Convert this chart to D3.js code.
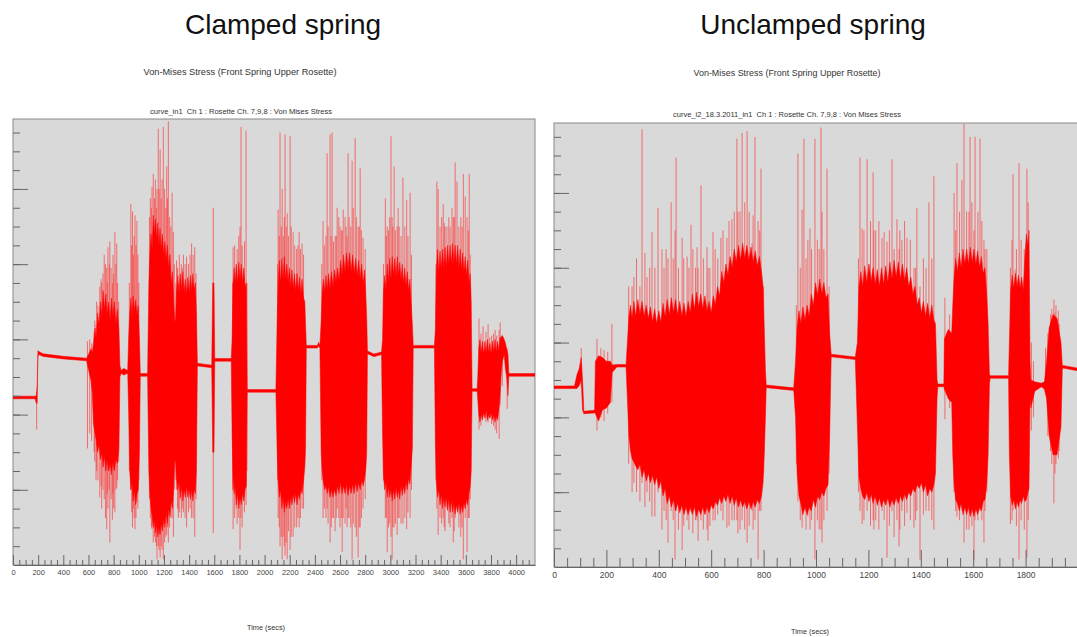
<!DOCTYPE html>
<html>
<head>
<meta charset="utf-8">
<script src="https://cdn.jsdelivr.net/npm/d3@7"></script>
<style>
  body { margin: 0; background: #fff; }
  svg { display: block; font-family: "Liberation Sans", Arial, sans-serif; }
</style>
</head>
<body>
<svg id="svg" width="1077" height="637"></svg>
<script>
// envelope rows: [time, upper, lower] of the solid trace, spikes: [time, top, bottom]
const clampedEnvelope = [
  [0, 89.8, 88.4], [175, 89.8, 88.4], [186, 90, 86], [192, 96, 86], [198, 114, 110.5], [205, 113.5, 112],
  [240, 112.3, 110.9], [400, 111, 109.6], [585, 110, 108.6],
  [600, 112, 104], [620, 115, 98], [630, 113, 92],
  [640, 118, 75], [652, 126, 70], [662, 120, 66], [672, 134, 60], [684, 128, 64], [695, 140, 56], [706, 132, 60],
  [716, 146, 52], [727, 136, 58], [738, 144, 50], [748, 133, 56], [760, 140, 50], [772, 130, 54], [783, 142, 48],
  [794, 132, 55], [806, 140, 50], [818, 128, 56], [830, 136, 54], [842, 125, 62], [850, 106, 100],
  [860, 103.5, 102], [880, 104.5, 101], [912, 103.5, 102],
  [920, 122, 80], [928, 134, 50], [937, 142, 40], [946, 132, 44], [955, 143, 34], [965, 135, 40], [975, 141, 32],
  [986, 133, 38], [996, 138, 40], [1005, 120, 60], [1012, 101.8, 100.4],
  [1070, 101.8, 100.4],
  [1080, 150, 50], [1088, 165, 38], [1097, 176, 30], [1106, 168, 26], [1115, 186, 20], [1124, 176, 24],
  [1133, 184, 17], [1142, 172, 22], [1151, 182, 15], [1160, 170, 20], [1169, 179, 16], [1178, 168, 22],
  [1188, 176, 18], [1198, 165, 24], [1208, 172, 20], [1218, 162, 28], [1228, 170, 22], [1238, 158, 30],
  [1248, 165, 26], [1258, 150, 34], [1268, 156, 30], [1278, 140, 42], [1285, 130, 55],
  [1292, 130, 55], [1300, 145, 46], [1310, 154, 40], [1320, 144, 44], [1330, 155, 36], [1340, 146, 42],
  [1350, 156, 34], [1360, 145, 40], [1370, 152, 36], [1380, 144, 42], [1390, 153, 36], [1400, 145, 40],
  [1410, 154, 35], [1420, 146, 40], [1430, 155, 34], [1440, 146, 40], [1450, 150, 38], [1458, 135, 50],
  [1466, 107.3, 105.9], [1580, 106.3, 104.9],
  [1588, 150, 60], [1598, 150, 60], [1604, 109.8, 108.4], [1735, 109.8, 108.4],
  [1742, 120, 70], [1750, 150, 45], [1758, 158, 38], [1766, 150, 42], [1775, 160, 32], [1785, 150, 38],
  [1795, 161, 30], [1805, 152, 36], [1815, 160, 32], [1825, 150, 38], [1835, 158, 34], [1845, 148, 40],
  [1855, 150, 42], [1862, 93.3, 91.9],
  [2090, 93.3, 91.9],
  [2100, 130, 60], [2108, 150, 45], [2117, 162, 36], [2127, 150, 40], [2137, 163, 30], [2147, 152, 36],
  [2157, 164, 28], [2167, 152, 34], [2177, 160, 30], [2188, 150, 36], [2198, 158, 30], [2208, 148, 36],
  [2218, 157, 32], [2228, 147, 38], [2238, 155, 33], [2248, 146, 38], [2258, 155, 32], [2268, 146, 38],
  [2278, 153, 35], [2288, 144, 40], [2298, 152, 38], [2310, 142, 45], [2320, 140, 52], [2326, 128, 62],
  [2332, 116.8, 115.4],
  [2420, 116.8, 115.4], [2430, 118.5, 116.5], [2440, 116.8, 115.4],
  [2450, 130, 60], [2458, 145, 50], [2468, 152, 44], [2478, 145, 40], [2488, 154, 42], [2498, 146, 38],
  [2508, 155, 42], [2520, 147, 36], [2532, 156, 40], [2544, 148, 36], [2556, 157, 40], [2568, 150, 37],
  [2580, 158, 42], [2592, 151, 38], [2604, 162, 44], [2616, 154, 38], [2628, 165, 42], [2640, 156, 38],
  [2652, 166, 43], [2664, 157, 37], [2676, 166, 42], [2688, 156, 38], [2700, 165, 43], [2712, 155, 38],
  [2724, 163, 44], [2736, 154, 39], [2748, 162, 44], [2760, 152, 40], [2772, 160, 45], [2784, 150, 42],
  [2796, 157, 46], [2806, 142, 52], [2812, 132, 60], [2818, 113.8, 112.4],
  [2870, 112.2, 110.8], [2930, 113.3, 111.9],
  [2938, 120, 70], [2945, 145, 48], [2955, 154, 40], [2965, 146, 44], [2975, 160, 36], [2985, 150, 42],
  [2995, 163, 36], [3005, 152, 40], [3015, 164, 34], [3025, 154, 40], [3035, 163, 35], [3045, 153, 41],
  [3055, 164, 36], [3065, 154, 40], [3075, 161, 35], [3085, 152, 42], [3095, 160, 37], [3105, 150, 42],
  [3115, 158, 38], [3125, 148, 44], [3135, 156, 40], [3145, 146, 46], [3155, 152, 43], [3165, 140, 52],
  [3175, 128, 62], [3182, 116.8, 115.4],
  [3350, 116.8, 115.4],
  [3358, 125, 65], [3365, 155, 45], [3375, 168, 36], [3385, 156, 40], [3395, 167, 32], [3405, 157, 38],
  [3415, 168, 30], [3425, 158, 36], [3435, 169, 31], [3445, 158, 36], [3455, 170, 29], [3465, 160, 35],
  [3475, 170, 28], [3485, 160, 34], [3495, 171, 28], [3505, 160, 33], [3515, 170, 27], [3525, 160, 32],
  [3535, 170, 28], [3545, 158, 33], [3555, 168, 27], [3565, 157, 32], [3575, 166, 28], [3585, 156, 33],
  [3595, 164, 30], [3605, 154, 35], [3615, 162, 32], [3625, 150, 38], [3635, 155, 42], [3643, 140, 50],
  [3650, 93.8, 92.4],
  [3690, 93.8, 92.4],
  [3695, 100, 88], [3703, 115, 80], [3712, 120, 76], [3722, 113, 80], [3732, 119, 77], [3742, 112, 81],
  [3752, 119, 78], [3762, 113, 82], [3772, 120, 77], [3782, 113, 80], [3792, 118, 78], [3802, 112, 81],
  [3812, 119, 77], [3822, 113, 80], [3832, 120, 76], [3842, 113, 79], [3852, 119, 77], [3862, 114, 82],
  [3872, 121, 90], [3880, 121, 100], [3890, 122, 108], [3905, 120, 112], [3915, 118, 104], [3925, 115, 100],
  [3935, 112, 90], [3942, 101.8, 100.4],
  [4150, 101.8, 100.4]
];

const clampedSpikes = [
  [188, 92, 72], [592, 119, 62], [610, 120, 70], [625, 118, 66], [645, 124, 60], [660, 128, 45],
  [690, 148, 36], [705, 150, 30], [735, 160, 25], [745, 158, 19], [755, 169, 30], [770, 172, 12],
  [790, 150, 24], [810, 177, 28], [825, 171, 41], [840, 140, 55],
  [650, 130, 55], [665, 140, 50], [675, 138, 45], [700, 152, 42], [715, 155, 40], [725, 165, 35],
  [750, 150, 38], [765, 160, 40], [780, 158, 35], [795, 165, 38], [800, 155, 30], [818, 160, 40], [832, 150, 45],
  [937, 192, 40], [950, 188, 20], [970, 186, 19], [985, 183, 33], [1000, 150, 45],
  [925, 150, 50], [943, 170, 28], [957, 165, 30], [963, 175, 25], [978, 170, 25], [993, 165, 30],
  [1105, 201, 19], [1115, 208, 12], [1145, 200, 3], [1155, 232, 10], [1170, 221, 4], [1195, 233, 3],
  [1222, 212, 16], [1235, 236, 12], [1265, 198, 25], [1275, 177, 15],
  [1085, 185, 35], [1092, 195, 25], [1100, 190, 20], [1125, 195, 15], [1132, 205, 12], [1140, 190, 10],
  [1162, 200, 8], [1178, 195, 10], [1185, 205, 8], [1205, 200, 12], [1215, 190, 15], [1228, 195, 20],
  [1245, 185, 20], [1255, 180, 25], [1282, 160, 40],
  [1300, 162, 40], [1315, 150, 25], [1330, 153, 35], [1345, 158, 30], [1380, 164, 20], [1420, 171, 25],
  [1445, 169, 15],
  [1295, 150, 45], [1308, 158, 30], [1322, 165, 28], [1338, 160, 25], [1355, 165, 28], [1368, 160, 25],
  [1395, 160, 28], [1408, 165, 30], [1432, 165, 25], [1455, 155, 35],
  [1592, 190, 17],
  [1750, 169, 19], [1775, 159, 30], [1805, 180, 8], [1813, 233, 25], [1853, 231, 32],
  [1745, 150, 40], [1762, 170, 25], [1782, 168, 22], [1795, 175, 25], [1822, 170, 20], [1840, 172, 28], [1860, 150, 50],
  [2108, 189, 25], [2123, 230, 10], [2140, 200, 3], [2163, 229, 5], [2180, 187, 3], [2203, 228, 8],
  [2227, 177, 15], [2275, 177, 20], [2298, 171, 30],
  [2103, 160, 45], [2117, 175, 20], [2132, 180, 15], [2148, 175, 15], [2157, 185, 10], [2172, 180, 12],
  [2190, 175, 18], [2212, 180, 15], [2240, 170, 20], [2255, 168, 20], [2265, 170, 25], [2285, 168, 25], [2310, 165, 30],
  [2465, 183, 25], [2497, 219, 30], [2521, 229, 12], [2537, 230, 25], [2561, 175, 18], [2577, 190, 30],
  [2600, 180, 20], [2617, 178, 7], [2625, 189, 25], [2656, 175, 20], [2664, 219, 25], [2696, 215, 3],
  [2720, 227, 20], [2744, 180, 4], [2760, 211, 20], [2783, 174, 30],
  [2455, 160, 45], [2475, 170, 30], [2488, 175, 25], [2505, 180, 22], [2530, 175, 20], [2548, 172, 25],
  [2570, 175, 25], [2590, 185, 25], [2610, 178, 25], [2640, 185, 22], [2648, 180, 30], [2672, 185, 25],
  [2685, 180, 20], [2705, 190, 22], [2730, 185, 15], [2752, 180, 20], [2770, 178, 25], [2800, 168, 35],
  [2960, 195, 25], [2975, 180, 7], [3005, 228, 15], [3014, 185, 3], [3030, 212, 20], [3054, 180, 16],
  [3062, 190, 25], [3100, 206, 22], [3130, 194, 19], [3157, 198, 25],
  [2945, 160, 45], [2968, 175, 25], [2985, 178, 20], [2995, 185, 22], [3020, 180, 20], [3040, 178, 22],
  [3070, 180, 25], [3085, 175, 22], [3115, 180, 25], [3140, 175, 28], [3168, 165, 40],
  [3370, 204, 30], [3380, 200, 16], [3420, 192, 25], [3435, 180, 18], [3450, 180, 30], [3490, 190, 25],
  [3500, 185, 12], [3515, 214, 25], [3530, 204, 30], [3580, 208, 3], [3595, 196, 25], [3610, 185, 7],
  [3627, 208, 25],
  [3363, 160, 45], [3395, 180, 25], [3408, 185, 22], [3428, 182, 20], [3465, 185, 22], [3475, 180, 20],
  [3508, 185, 18], [3545, 180, 20], [3560, 185, 15], [3570, 180, 20], [3620, 178, 25], [3635, 165, 35],
  [3705, 131, 72], [3737, 127, 81], [3777, 128, 76], [3805, 122, 75], [3833, 125, 72], [3865, 125, 67],
  [3873, 129, 85], [3929, 115, 83],
  [3720, 123, 74], [3760, 124, 76], [3790, 121, 78], [3820, 123, 74], [3845, 122, 70], [3890, 122, 95]
];

const unclampedEnvelope = [
  [0, 96.8, 95.4], [78, 96.8, 95.4], [88, 103, 95.5], [96, 106, 97], [104, 112, 100], [109, 100, 84],
  [114, 83.3, 81.9], [155, 83.8, 82.4],
  [158, 110, 82], [170, 113, 78], [185, 112, 84], [200, 110, 85], [215, 110, 88], [222, 108, 104],
  [240, 108.3, 106.9], [275, 108.3, 106.9],
  [280, 120, 90], [286, 134, 70], [292, 140, 62], [298, 133, 58], [305, 142, 56], [312, 134, 54],
  [320, 143, 52], [328, 135, 55], [336, 142, 48], [344, 134, 52], [352, 140, 46], [360, 133, 50],
  [368, 139, 45], [376, 131, 49], [384, 138, 44], [392, 130, 48], [400, 137, 42], [408, 131, 46],
  [416, 141, 38], [424, 134, 42], [432, 143, 34], [440, 135, 38], [448, 144, 32], [456, 136, 36],
  [464, 143, 30], [472, 135, 34], [480, 142, 29], [488, 134, 33], [496, 141, 28], [504, 134, 32],
  [512, 142, 28], [520, 136, 32], [528, 146, 28], [536, 138, 32], [544, 147, 27], [552, 139, 31],
  [560, 146, 28], [568, 138, 32], [576, 145, 28], [584, 137, 32], [592, 142, 29], [600, 136, 33],
  [608, 145, 31], [616, 140, 35], [624, 150, 33], [632, 145, 37], [640, 158, 34], [648, 152, 38],
  [656, 162, 35], [664, 156, 39], [672, 166, 34], [680, 160, 38], [688, 170, 33], [696, 163, 37],
  [704, 172, 32], [712, 164, 36], [720, 173, 32], [728, 165, 35], [736, 172, 31], [744, 164, 35],
  [752, 171, 31], [760, 163, 35], [768, 169, 32], [776, 161, 36], [784, 166, 34], [792, 158, 38],
  [798, 150, 45], [803, 125, 62], [807, 105, 80], [810, 97.3, 95.9],
  [915, 95.8, 94.4],
  [922, 110, 80], [928, 128, 50], [935, 137, 38], [942, 130, 34], [950, 139, 28], [958, 132, 32],
  [966, 140, 28], [974, 134, 32], [982, 146, 30], [990, 140, 36], [998, 152, 32], [1006, 145, 38],
  [1014, 154, 36], [1022, 146, 40], [1030, 152, 38], [1038, 144, 42], [1046, 146, 44], [1052, 125, 70],
  [1058, 113.8, 112.4],
  [1150, 112.3, 110.9],
  [1158, 120, 75], [1164, 150, 48], [1171, 158, 42], [1178, 150, 38], [1186, 161, 36], [1194, 152, 40],
  [1202, 162, 35], [1210, 153, 39], [1218, 160, 34], [1226, 151, 38], [1234, 159, 33], [1242, 150, 37],
  [1250, 160, 32], [1258, 151, 36], [1266, 161, 33], [1274, 152, 37], [1282, 163, 32], [1290, 154, 36],
  [1298, 164, 33], [1306, 155, 37], [1314, 163, 34], [1322, 154, 38], [1330, 162, 35], [1338, 153, 39],
  [1346, 160, 36], [1354, 150, 40], [1362, 155, 38], [1370, 146, 42], [1378, 150, 40], [1386, 140, 44],
  [1394, 144, 42], [1402, 136, 45], [1410, 142, 40], [1418, 134, 44], [1426, 141, 38], [1434, 133, 42],
  [1442, 140, 40], [1450, 132, 44], [1456, 130, 50], [1462, 100, 90],
  [1465, 97.8, 96.4], [1488, 97.8, 96.4],
  [1490, 122, 95], [1505, 127, 90], [1518, 125, 88],
  [1522, 140, 60], [1527, 155, 44], [1533, 165, 36], [1540, 158, 34], [1547, 168, 30], [1554, 160, 34],
  [1561, 170, 28], [1568, 162, 32], [1575, 170, 28], [1582, 162, 32], [1589, 171, 27], [1596, 163, 31],
  [1603, 170, 27], [1610, 162, 31], [1617, 169, 28], [1624, 160, 32], [1631, 166, 30], [1638, 157, 35],
  [1645, 160, 36], [1652, 145, 45], [1657, 130, 60], [1662, 103, 98],
  [1665, 102.3, 100.9], [1735, 102.3, 100.9],
  [1738, 120, 60], [1743, 148, 38], [1749, 156, 33], [1755, 149, 36], [1761, 157, 31], [1767, 150, 35],
  [1773, 156, 32], [1779, 149, 36], [1785, 155, 34], [1791, 148, 38], [1797, 165, 35], [1803, 178, 36],
  [1809, 172, 40], [1813, 180, 42], [1817, 110, 90],
  [1820, 100, 85], [1835, 99, 94], [1860, 98.3, 96.4], [1872, 99, 95],
  [1880, 110, 90], [1890, 128, 70], [1905, 135, 60], [1920, 133, 60], [1935, 120, 75], [1940, 108, 105],
  [1942, 107.8, 106.4], [2000, 106.3, 104.9]
];

const unclampedSpikes = [
  [104, 117, 96], [164, 122, 73], [179, 117, 80], [191, 116, 78], [205, 115, 82], [221, 130, 88],
  [298, 150, 40], [336, 234, 45], [347, 168, 32], [374, 179, 27], [385, 160, 27], [397, 192, 40],
  [412, 170, 20], [435, 165, 13], [447, 195, 30], [462, 180, 4], [466, 219, 30], [489, 176, 9],
  [508, 166, 25], [523, 183, 30], [546, 171, 25], [550, 160, 14], [561, 204, 25], [584, 171, 20],
  [588, 160, 14], [607, 179, 25], [637, 176, 30], [660, 176, 21], [679, 186, 25], [698, 229, 25],
  [702, 190, 18], [718, 232, 25], [737, 233, 13], [756, 173, 30], [767, 230, 25], [779, 185, 4],
  [790, 213, 30],
  [285, 150, 55], [305, 155, 45], [315, 165, 40], [328, 150, 35], [355, 155, 40], [365, 160, 35],
  [420, 160, 30], [428, 170, 25], [455, 165, 25], [475, 160, 20], [495, 165, 22], [515, 160, 20],
  [530, 170, 18], [540, 160, 25], [570, 165, 20], [595, 160, 22], [615, 170, 25], [625, 165, 28],
  [645, 180, 25], [668, 185, 22], [688, 190, 25], [710, 190, 20], [728, 195, 20], [745, 190, 22],
  [760, 188, 20], [785, 180, 30], [800, 150, 50],
  [931, 221, 35], [947, 191, 21], [954, 229, 30], [969, 175, 27], [977, 181, 20], [996, 229, 4],
  [1019, 235, 20], [1023, 190, 13], [1042, 213, 30],
  [925, 140, 55], [940, 160, 25], [962, 165, 20], [983, 170, 25], [1005, 175, 25], [1012, 170, 20],
  [1030, 170, 25], [1050, 150, 50],
  [1168, 219, 30], [1176, 181, 23], [1195, 218, 30], [1218, 211, 25], [1221, 180, 20], [1252, 176, 30],
  [1260, 179, 25], [1271, 174, 5], [1290, 218, 30], [1298, 170, 16], [1309, 186, 25], [1317, 170, 11],
  [1328, 175, 30], [1347, 176, 29], [1374, 160, 21], [1385, 192, 30], [1397, 150, 4], [1431, 195, 30],
  [1450, 209, 20],
  [1162, 165, 40], [1183, 180, 25], [1208, 185, 22], [1228, 180, 25], [1240, 185, 20], [1280, 180, 22],
  [1320, 180, 20], [1338, 185, 22], [1360, 175, 25], [1380, 160, 25], [1410, 165, 28], [1420, 160, 30],
  [1442, 165, 25],
  [1492, 144, 79], [1510, 135, 85],
  [1527, 200, 40], [1538, 216, 27], [1557, 207, 30], [1565, 237, 13], [1584, 190, 20], [1588, 230, 30],
  [1603, 180, 4], [1607, 230, 25], [1626, 229, 30], [1641, 175, 13], [1645, 170, 30],
  [1533, 180, 30], [1548, 190, 25], [1575, 190, 20], [1595, 195, 22], [1618, 190, 25], [1633, 185, 25],
  [1652, 170, 40],
  [1742, 160, 23], [1752, 210, 30], [1760, 159, 40], [1775, 216, 4], [1805, 213, 5],
  [1748, 175, 25], [1765, 170, 22], [1783, 175, 25], [1795, 170, 20], [1810, 195, 25],
  [1822, 120, 73], [1830, 110, 80], [1876, 117, 97],
  [1895, 135, 62], [1908, 143, 34], [1916, 140, 55], [1928, 130, 62],
  [1885, 125, 70], [1900, 138, 55], [1912, 136, 50], [1925, 137, 58]
];

const clampedXTicks = [0, 200, 400, 600, 800, 1000, 1200, 1400, 1600, 1800, 2000, 2200, 2400, 2600, 2800, 3000, 3200, 3400, 3600, 3800, 4000];
const unclampedXTicks = [0, 200, 400, 600, 800, 1000, 1200, 1400, 1600, 1800];

const svg = d3.select('#svg');

const panels = [
  {
    id: 'clamped', title: 'Clamped spring', titleX: 283,
    heading: 'Von-Mises Stress (Front Spring Upper Rosette)', headingX: 240, headingY: 75, headingW: 193,
    curve: 'curve_in1  Ch 1 : Rosette Ch. 7,9,8 : Von Mises Stress', curveX: 241, curveY: 114, curveW: 182,
    timeX: 266, timeY: 630,
    left: 13, right: 535, top: 119, bottom: 565, tMax: 4150, vMax: 237.2,
    envelope: clampedEnvelope, spikes: clampedSpikes, xTicks: clampedXTicks,
    majorLen: 10, minorLen: 5, labelSize: 7.5
  },
  {
    id: 'unclamped', title: 'Unclamped spring', titleX: 813,
    heading: 'Von-Mises Stress (Front Spring Upper Rosette)', headingX: 787, headingY: 76, headingW: 187,
    curve: 'curve_i2_18.3.2011_in1  Ch 1 : Rosette Ch. 7,9,8 : Von Mises Stress', curveX: 787, curveY: 117, curveW: 228,
    timeX: 810, timeY: 634,
    left: 554, right: 1078, top: 123, bottom: 567, tMax: 2000, vMax: 237.4,
    envelope: unclampedEnvelope, spikes: unclampedSpikes, xTicks: unclampedXTicks,
    majorLen: 17, minorLen: 9, labelSize: 8.5
  }
];

panels.forEach(p => {
  const g = svg.append('g');

  const x = d3.scaleLinear().domain([0, p.tMax]).range([p.left, p.right]);
  const y = d3.scaleLinear().domain([0, p.vMax]).range([p.bottom, p.top]);

  g.append('text').attr('x', p.titleX).attr('y', 34).attr('text-anchor', 'middle')
    .attr('font-size', 28).attr('fill', '#111').text(p.title);

  g.append('text').attr('x', p.headingX).attr('y', p.headingY).attr('text-anchor', 'middle')
    .attr('font-size', 9.5).attr('fill', '#333')
    .attr('textLength', p.headingW).attr('lengthAdjust', 'spacingAndGlyphs').text(p.heading);

  g.append('text').attr('x', p.curveX).attr('y', p.curveY).attr('text-anchor', 'middle')
    .attr('font-size', 8).attr('fill', '#333').style('white-space', 'pre')
    .attr('textLength', p.curveW).attr('lengthAdjust', 'spacingAndGlyphs').text(p.curve);

  g.append('rect')
    .attr('x', p.left).attr('y', p.top)
    .attr('width', p.right - p.left).attr('height', p.bottom - p.top)
    .attr('fill', '#d9d9d9').attr('stroke', '#8a8a8a');

  g.append('clipPath').attr('id', 'clip-' + p.id)
    .append('rect')
    .attr('x', p.left).attr('y', p.top)
    .attr('width', p.right - p.left).attr('height', p.bottom - p.top);

  const plot = g.append('g').attr('clip-path', `url(#clip-${p.id})`);

  const band = d3.area()
    .x(d => x(d[0]))
    .y0(d => y(d[2]))
    .y1(d => y(d[1]));

  plot.selectAll('line.spike')
    .data(p.spikes)
    .join('line')
    .attr('class', 'spike')
    .attr('x1', d => x(d[0])).attr('x2', d => x(d[0]))
    .attr('y1', d => y(d[1])).attr('y2', d => y(d[2]))
    .attr('stroke', '#ff2f2f').attr('stroke-opacity', 0.65).attr('stroke-width', 1);

  plot.append('path')
    .datum(p.envelope)
    .attr('d', band)
    .attr('fill', '#ff0000')
    .attr('stroke', '#ff0000').attr('stroke-width', 0.5);

  // y ticks (no labels), pointing into the plot
  const yMinor = d3.range(10, p.vMax, 10);
  const yMajor = d3.range(40, p.vMax, 40);
  g.append('g').attr('transform', `translate(${p.left},0)`)
    .call(d3.axisRight(y).tickValues(yMinor).tickSize(7).tickFormat(''))
    .call(a => a.select('.domain').remove())
    .selectAll('line').attr('stroke', '#666');
  g.append('g').attr('transform', `translate(${p.left},0)`)
    .call(d3.axisRight(y).tickValues(yMajor).tickSize(15).tickFormat(''))
    .call(a => a.select('.domain').remove())
    .selectAll('line').attr('stroke', '#666');

  // x ticks pointing up, labels below
  const xMinor = d3.range(50, p.tMax, 50).filter(t => t % 200 !== 0);
  g.append('g').attr('transform', `translate(0,${p.bottom})`)
    .call(d3.axisBottom(x).tickValues(xMinor).tickSize(-p.minorLen).tickSizeOuter(0).tickFormat(''))
    .call(a => a.select('.domain').remove())
    .selectAll('line').attr('stroke', '#666');
  const xa = g.append('g').attr('transform', `translate(0,${p.bottom})`)
    .call(d3.axisBottom(x).tickValues(p.xTicks).tickSize(-p.majorLen).tickSizeOuter(0)
      .tickPadding(5).tickFormat(d3.format('d')));
  xa.select('.domain').attr('stroke', '#666');
  xa.selectAll('line').attr('stroke', '#666');
  xa.selectAll('text')
    .attr('font-family', '"Liberation Sans Narrow", "Liberation Sans", Arial, sans-serif')
    .attr('font-size', p.labelSize).attr('fill', '#444');

  g.append('text').attr('x', p.timeX).attr('y', p.timeY).attr('text-anchor', 'middle')
    .attr('font-size', 8).attr('fill', '#333')
    .attr('textLength', 38).attr('lengthAdjust', 'spacingAndGlyphs').text('Time (secs)');
});
</script>
</body>
</html>
